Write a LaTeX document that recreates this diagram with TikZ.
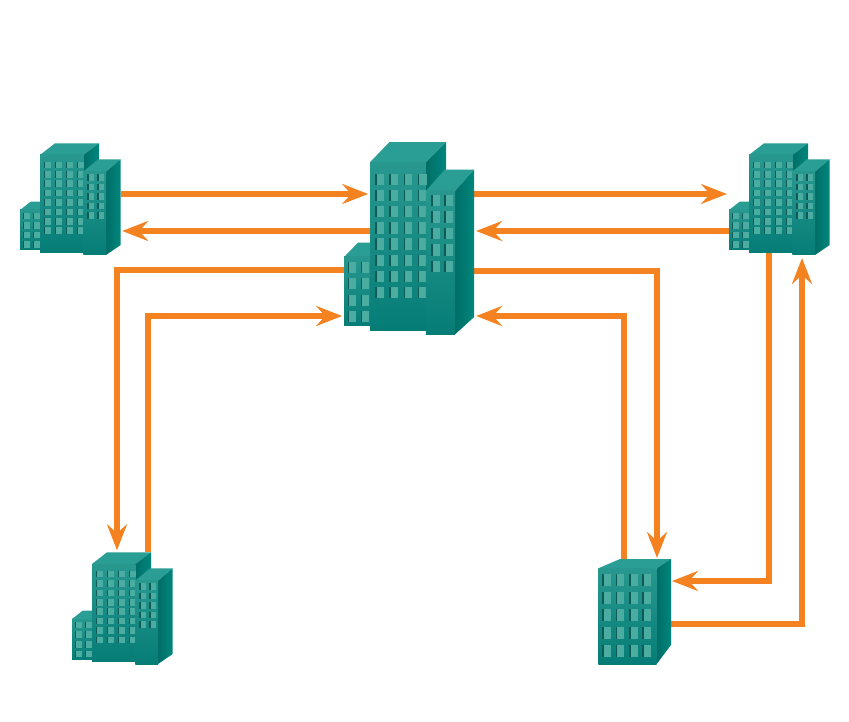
\documentclass[tikz,border=0pt]{standalone}
\usepackage{tikz}
\usetikzlibrary{arrows.meta}

\definecolor{linkorange}{RGB}{245,130,32}
\definecolor{roofteal}{RGB}{42,158,148}
\definecolor{wallhigh}{RGB}{40,152,143}
\definecolor{walllow}{RGB}{5,125,118}
\definecolor{sidedark}{RGB}{0,110,103}
\definecolor{sidelight}{RGB}{0,135,125}
\definecolor{glass}{RGB}{75,172,162}
\definecolor{frame}{RGB}{15,90,86}

\tikzset{
    site/.style={inner sep=0pt, outer sep=0pt},
    link/.style={line width=5.4pt, linkorange},
    linkarrow/.style={link, -{Stealth[length=26pt, width=20pt, inset=9pt]}},
    roof/.style={fill=roofteal},
    front/.style={top color=wallhigh, bottom color=walllow},
    side/.style={left color=sidedark, right color=sidelight},
    pane/.pic={
        \fill[glass] (0,0) rectangle (6.8,6.6);
        \fill[frame] (0,0) rectangle (1.3,6.6);
    },
    % three towers, drawn around the centre of their box
    towers/.pic={
        \begin{scope}[shift={(-70.35,-199.15)}]
            % Small tower
            \fill[roof] (20,210) -- (30.7,201.7) -- (40,201.7) -- (40,210) -- cycle;
            \shade[front] (20,210) rectangle (40,250);
            \foreach \col in {0,1}
                \foreach \row in {0,...,3}
                    \pic[transform shape] at (22.7+10*\col,212.7+9.6*\row) {pane};
            % Main tower
            \fill[roof] (40,155) -- (55,143.3) -- (99,143.3) -- (83.3,155) -- cycle;
            \shade[side] (83.3,155) -- (99,143.3) -- (99,240) -- (83.3,252.7) -- cycle;
            \shade[front] (40,155) rectangle (83.3,252.7);
            \foreach \col in {0,...,3}
                \foreach \row in {0,...,7}
                    \pic[transform shape] at (44+11*\col,161.7+9.4*\row) {pane};
            % Right tower
            \fill[roof] (83.3,171.7) -- (98,159.3) -- (120.7,159.3) -- (106,171.7) -- cycle;
            \shade[side] (106,171.7) -- (120.7,159.3) -- (120.7,245) -- (106,255) -- cycle;
            \shade[front] (83.3,171.7) rectangle (106,255);
            \foreach \col in {0,1}
                \foreach \row in {0,...,4}
                    \pic[transform shape] at (87.3+10*\col,174+9.6*\row) {pane};
        \end{scope}
    },
    % one block, drawn around its centre
    block/.pic={
        \begin{scope}[shift={(-634.65,-611.5)}]
            \fill[roof] (598.3,568.3) -- (620,559) -- (671,559) -- (656.7,568.3) -- cycle;
            \shade[side] (656.7,568.3) -- (671,559) -- (671,645) -- (656.7,664) -- cycle;
            \shade[front] (598.3,568.3) rectangle (656.7,664);
            \foreach \col in {0,...,3}
                \foreach \row in {0,...,4}
                    \pic[xscale=1.3, yscale=1.8] at (602.3+13.3*\col,574+17.7*\row) {pane};
        \end{scope}
    }
}

\begin{document}
\begin{tikzpicture}[x=1pt, y=-1pt]
    \useasboundingbox (0,0) rectangle (849,722);

    % Define sites
    \node[site, minimum width=100.7pt, minimum height=111.7pt] (westsite) at (70.35,199.15) {};
    \node[site, minimum width=100.7pt, minimum height=111.7pt] (eastsite) at (779.35,199.15) {};
    \node[site, minimum width=100.7pt, minimum height=111.7pt] (southsite) at (122.35,608.15) {};
    \node[site, minimum width=129.9pt, minimum height=192.1pt] (hq) at (409.15,238.2) {};
    \node[site, minimum width=72.7pt, minimum height=105pt] (branch) at (634.65,611.5) {};

    % Draw links
    \draw[linkarrow] (westsite.east |- 0,194) -- ([xshift=24pt]hq.west |- 0,194);
    \draw[linkarrow] ([xshift=26pt]hq.west |- 0,231) -- ([xshift=1.5pt]westsite.east |- 0,231);
    \draw[linkarrow] (hq.east |- 0,194) -- ([xshift=-2pt]eastsite.west |- 0,194);
    \draw[linkarrow] (eastsite.west |- 0,231) -- ([xshift=2pt]hq.east |- 0,231);

    \draw[linkarrow] (hq.west |- 0,270) -- (117,270) -- ([yshift=2pt]117,0 |- southsite.north);
    \draw[linkarrow] (148,0 |- southsite.north) -- (148,316) -- ([xshift=-2pt]hq.west |- 0,316);
    \draw[linkarrow] (hq.east |- 0,271) -- (657,271) -- ([yshift=1pt]657,0 |- branch.north);
    \draw[linkarrow] (624,0 |- branch.north) -- (624,316) -- ([xshift=2pt]hq.east |- 0,316);

    \draw[linkarrow] (769,0 |- eastsite.center) -- (769,581) -- ([xshift=1pt]branch.east |- 0,581);
    \draw[linkarrow] (branch.east |- 0,624) -- (802,624) -- ([yshift=-3pt]802,0 |- eastsite.south);

    % Draw buildings
    \pic at (westsite) {towers};
    \pic at (eastsite) {towers};
    \pic at (southsite) {towers};
    \pic[xscale=1.29, yscale=1.72] at (hq) {towers};
    \pic at (branch) {block};
\end{tikzpicture}
\end{document}
